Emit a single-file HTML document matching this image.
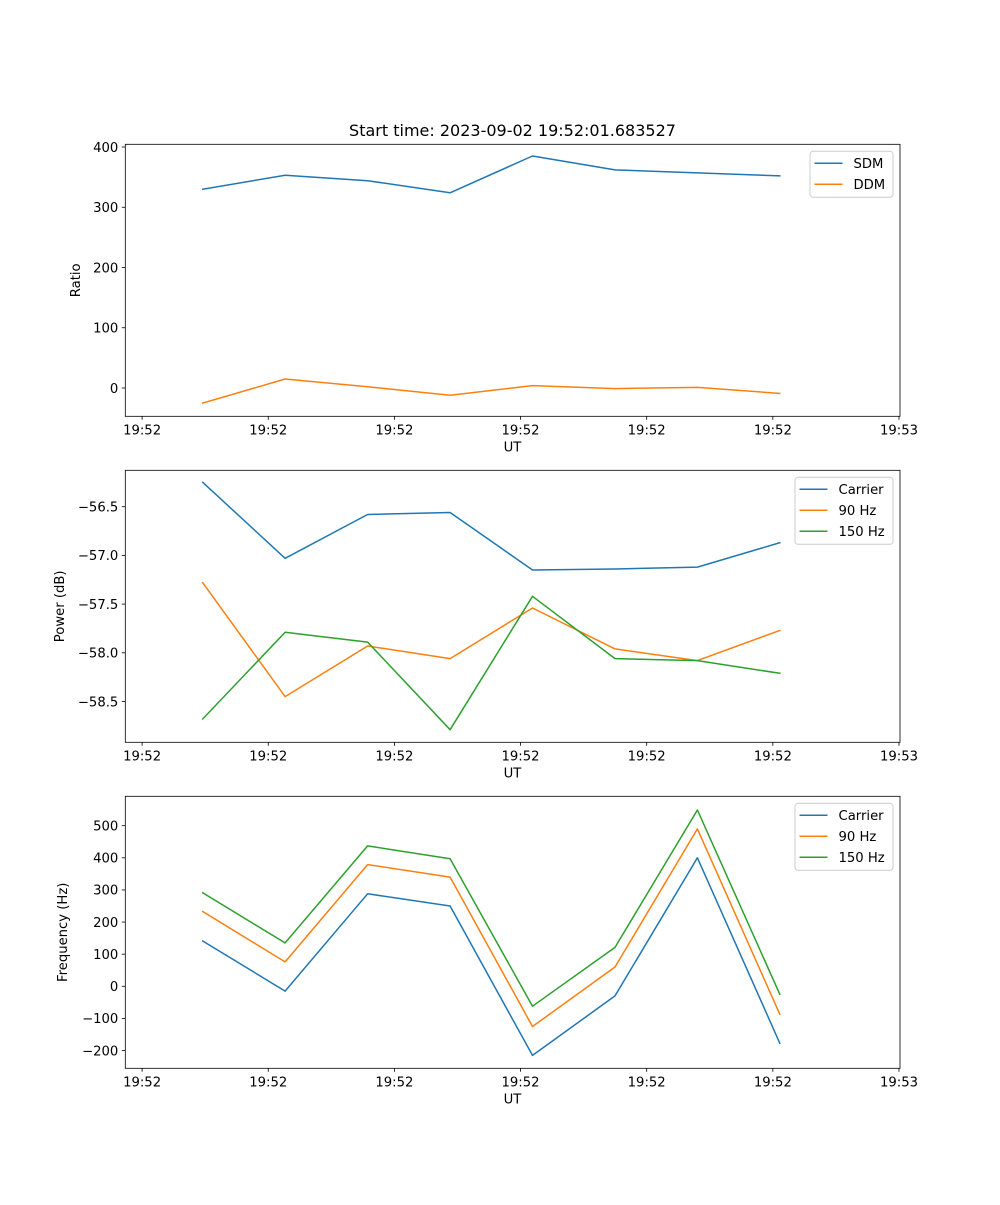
<!DOCTYPE html>
<html><head><meta charset="utf-8">
<style>
html,body{margin:0;padding:0;background:#fff;}
svg text{font-family:"DejaVu Sans","Liberation Sans",sans-serif;fill:#000;}
</style></head>
<body>
<svg id="fig" width="1000" height="1200" viewBox="0 0 1000 1200" xmlns="http://www.w3.org/2000/svg">
<rect width="1000" height="1200" fill="#fff"/>
<text x="512.5" y="136" font-size="16" text-anchor="middle">Start time: 2023-09-02 19:52:01.683527</text>
</svg>
<script>
// shared x data (sample index)
const xIndex = [0, 1, 2, 3, 4, 5, 6, 7];
const xTickIdx = [-0.735, 0.795, 2.325, 3.855, 5.385, 6.915, 8.445];
const xTickLabels = ["19:52","19:52","19:52","19:52","19:52","19:52","19:53"];

// panel 1
const p1Ticks = [0, 100, 200, 300, 400];
const sdm = [330, 353, 344, 324, 385, 362, 357, 352];
const ddm = [-25, 15, 2, -12, 4, -1, 1, -9];
// panel 2
const p2Ticks = [-58.5, -58.0, -57.5, -57.0, -56.5];
const p2TickLabels = ["\u221258.5","\u221258.0","\u221257.5","\u221257.0","\u221256.5"];
const powCarrier = [-56.25, -57.03, -56.58, -56.56, -57.15, -57.14, -57.12, -56.87];
const pow90 = [-57.28, -58.45, -57.93, -58.06, -57.54, -57.96, -58.08, -57.77];
const pow150 = [-58.68, -57.79, -57.89, -58.79, -57.42, -58.06, -58.08, -58.21];
// panel 3
const p3Ticks = [-200, -100, 0, 100, 200, 300, 400, 500];
const p3TickLabels = ["\u2212200","\u2212100","0","100","200","300","400","500"];
const freqCarrier = [141, -15, 288, 250, -215, -30, 400, -177];
const freq90 = [233, 76, 379, 340, -125, 60, 490, -87];
const freq150 = [291, 135, 437, 397, -62, 121, 549, -25];

const NS = "http://www.w3.org/2000/svg";
const svg = document.getElementById('fig');
const AX_L = 125.3, AX_R = 900;
function xScale(i){ return 202.7 + i * 82.45; }
function mk(tag, attrs, parent){ const e = document.createElementNS(NS, tag); for (const k in attrs) e.setAttribute(k, attrs[k]); (parent||svg).appendChild(e); return e; }

function panel(o){
  const g = mk('g', {});
  
  
  const y = v => o.y0 + (v - o.v0) * o.k;
  o.series.forEach(s => {
    const pts = s.vals.map((v, i) => xScale(xIndex[i]).toFixed(1) + ',' + y(v).toFixed(1)).join(' ');
    const pl = mk('polyline', {points: pts, fill: 'none', stroke: s.color, 'stroke-width': 1.5, 'stroke-linejoin': 'round', 'stroke-linecap': 'square'}, g);
    
    
  });
  const fr = mk('rect', {x: AX_L, y: o.top, width: AX_R - AX_L, height: o.bot - o.top, fill: 'none', stroke: '#000', 'stroke-width': 0.8}, g);
  
  
  xTickIdx.forEach((t, i) => {
    const x = xScale(t);
    mk('line', {x1: x, x2: x, y1: o.bot, y2: o.bot + 3.5, stroke: '#000', 'stroke-width': 0.8}, g);
    const tx = mk('text', {x: x, y: o.bot + 18, 'font-size': 13.2, 'text-anchor': 'middle'}, g);
    tx.textContent = xTickLabels[i];
    
    
  });
  const xl = mk('text', {x: 512.5, y: o.bot + 35, 'font-size': 13.2, 'text-anchor': 'middle'}, g);
  xl.textContent = 'UT';
  
  
  o.ticks.forEach((t, i) => {
    const yy = y(t);
    mk('line', {x1: AX_L - 3.5, x2: AX_L, y1: yy, y2: yy, stroke: '#000', 'stroke-width': 0.8}, g);
    const tx = mk('text', {x: AX_L - 7, y: yy + 4.8, 'font-size': 13.2, 'text-anchor': 'end'}, g);
    tx.textContent = o.tickLabels ? o.tickLabels[i] : String(t);
    
    
  });
  const cy = (o.top + o.bot) / 2;
  const yl = mk('text', {x: o.ylx, y: cy, 'font-size': 13.2, 'text-anchor': 'middle', transform: 'rotate(-90 ' + o.ylx + ' ' + cy + ')'}, g);
  yl.textContent = o.ylabel;
  
  
  const lg = mk('g', {}, g);
  
  
  const lh = 4 + o.series.length * 21;
  mk('rect', {x: o.legX, y: o.top + 7, width: 893 - o.legX, height: lh, rx: 3, fill: '#fff', 'fill-opacity': 0.8, stroke: '#ccc', 'stroke-width': 1}, lg);
  o.series.forEach((s, i) => {
    const ly = o.top + 19 + i * 21;
    const ent = mk('g', {}, lg);
    
    
    mk('line', {x1: o.legX + 4.5, x2: o.legX + 32.5, y1: ly, y2: ly, stroke: s.color, 'stroke-width': 1.5}, ent);
    const t = mk('text', {x: o.legX + 43.5, y: ly + 4.8, 'font-size': 13.2}, ent);
    t.textContent = s.label;
  });
}

const C0 = '#1f77b4', C1 = '#ff7f0e', C2 = '#2ca02c';
panel({name: 'ratio-panel', top: 144.3, bot: 416.3, v0: 0, y0: 388, k: -0.6025, ticks: p1Ticks, ylabel: 'Ratio', ylx: 80, legX: 810,
  series: [{id: 'sdm', label: 'SDM', vals: sdm, color: C0}, {id: 'ddm', label: 'DDM', vals: ddm, color: C1}]});
panel({name: 'power-panel', top: 470.3, bot: 742.3, v0: -56.5, y0: 506.7, k: -97.4, ticks: p2Ticks, tickLabels: p2TickLabels, ylabel: 'Power (dB)', ylx: 64, legX: 795,
  series: [{id: 'carrier', label: 'Carrier', vals: powCarrier, color: C0}, {id: '90hz', label: '90 Hz', vals: pow90, color: C1}, {id: '150hz', label: '150 Hz', vals: pow150, color: C2}]});
panel({name: 'frequency-panel', top: 796.3, bot: 1068.3, v0: 0, y0: 986.3, k: -0.3212, ticks: p3Ticks, tickLabels: p3TickLabels, ylabel: 'Frequency (Hz)', ylx: 67, legX: 795,
  series: [{id: 'carrier', label: 'Carrier', vals: freqCarrier, color: C0}, {id: '90hz', label: '90 Hz', vals: freq90, color: C1}, {id: '150hz', label: '150 Hz', vals: freq150, color: C2}]});
</script>
</body></html>
